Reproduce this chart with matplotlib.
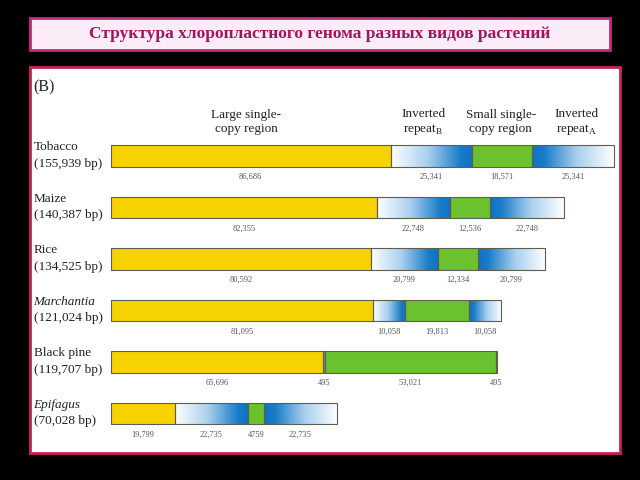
import numpy as np
import matplotlib
matplotlib.use('Agg')
import matplotlib.pyplot as plt
from matplotlib.patches import Rectangle
from matplotlib.colors import LinearSegmentedColormap

# ---- data ----
title = 'Структура хлоропластного генома разных видов растений'
species = ['Tobacco', 'Maize', 'Rice', 'Marchantia', 'Black pine', 'Epifagus']
italic = [False, False, False, True, False, True]
genome_bp = [155939, 140387, 134525, 121024, 119707, 70028]
lsc = [86686, 82355, 80592, 81095, 65696, 19799]   # large single-copy
ir = [25341, 22748, 20799, 10058, 495, 22735]      # inverted repeat (A and B)
ssc = [18571, 12536, 12334, 19813, 53021, 4759]     # small single-copy
headers = ['Large single-\ncopy region', 'Inverted\nrepeat$_\\mathregular{B}$',
           'Small single-\ncopy region', 'Inverted\nrepeat$_\\mathregular{A}$']

yellow = '#f6d300'
green = '#6cc12e'
edge = '#5e5e50'
ir_cmap = LinearSegmentedColormap.from_list(
    'ir', [(0, '#ffffff'), (0.45, '#a9cfee'), (0.85, '#1a7cc8'), (1, '#0f72c2')])

def fmt(v):
    return f'{v:,}' if v >= 10000 else str(v)

plt.rcParams['font.family'] = ['Liberation Serif', 'DejaVu Serif']

fig = plt.figure(figsize=(6.4, 4.8), dpi=100, facecolor='black')

# title box
fig.patches.append(Rectangle((30/640, 1-50/480), 580/640, 32/480, transform=fig.transFigure,
                             facecolor='#fbecf8', edgecolor='#c8287a', lw=2))
fig.text(320/640, 1-34/480, title, ha='center', va='center', fontsize=12.5,
         fontweight='bold', color='#a3135e')

# white panel holding the figure
ax = fig.add_axes([30/640, 1-453/480, 590/640, 386/480])
ax.set_facecolor('white')
for s in ax.spines.values():
    s.set_color('#c8205a')
    s.set_linewidth(2)
ax.set_xticks([])
ax.set_yticks([])

h = 0.41
grad = np.linspace(0, 1, 256)[None, :]

for i in range(len(species)):
    starts = [0, lsc[i], lsc[i] + ir[i], lsc[i] + ir[i] + ssc[i]]
    widths = [lsc[i], ir[i], ssc[i], ir[i]]
    # LSC and SSC solid
    ax.barh(i, widths[0], left=starts[0], height=h, color=yellow, edgecolor=edge, lw=0.8, zorder=2)
    ax.barh(i, widths[2], left=starts[2], height=h, color=green, edgecolor=edge, lw=0.8, zorder=2)
    # inverted repeats as gradients, clipped to their bar
    for k, g in ((1, grad), (3, grad[:, ::-1])):
        b = ax.barh(i, widths[k], left=starts[k], height=h, color='none',
                    edgecolor=edge, lw=0.8, zorder=2)
        im = ax.imshow(g, cmap=ir_cmap, aspect='auto', zorder=1, interpolation='bilinear',
                       extent=[starts[k], starts[k] + widths[k], i + h/2 + 0.05, i - h/2 - 0.05])
        im.set_clip_path(b.patches[0])
    # segment lengths under the bar
    for st, w in zip(starts, widths):
        ax.text(st + w/2, i + 0.41, fmt(w), ha='center', va='center',
                fontsize=6, color='#555555')
    # species names
    ax.text(-24000, i - 0.17, species[i], ha='left', va='center', fontsize=9.5,
            style='italic' if italic[i] else 'normal', color='#222222')
    ax.text(-24000, i + 0.15, f'({genome_bp[i]:,} bp)', ha='left', va='center',
            fontsize=9.5, color='#222222')

# region headers above the tobacco bar
t_starts = [0, lsc[0], lsc[0] + ir[0], lsc[0] + ir[0] + ssc[0]]
t_widths = [lsc[0], ir[0], ssc[0], ir[0]]
shift = [-1500, -2500, -500, 1000]
for st, w, lab, dx in zip(t_starts, t_widths, headers, shift):
    ax.text(st + w/2 + dx, -0.66, lab, ha='center', va='center', fontsize=9.5,
            color='#222222', linespacing=1.2)

ax.text(-24000, -1.33, '(B)', ha='left', va='center', fontsize=11.5, color='#222222')

ax.set_xlim(-25112, 157799)
ax.set_ylim(5.767, -1.728)

fig.savefig('out.png', dpi=100, facecolor='black')
